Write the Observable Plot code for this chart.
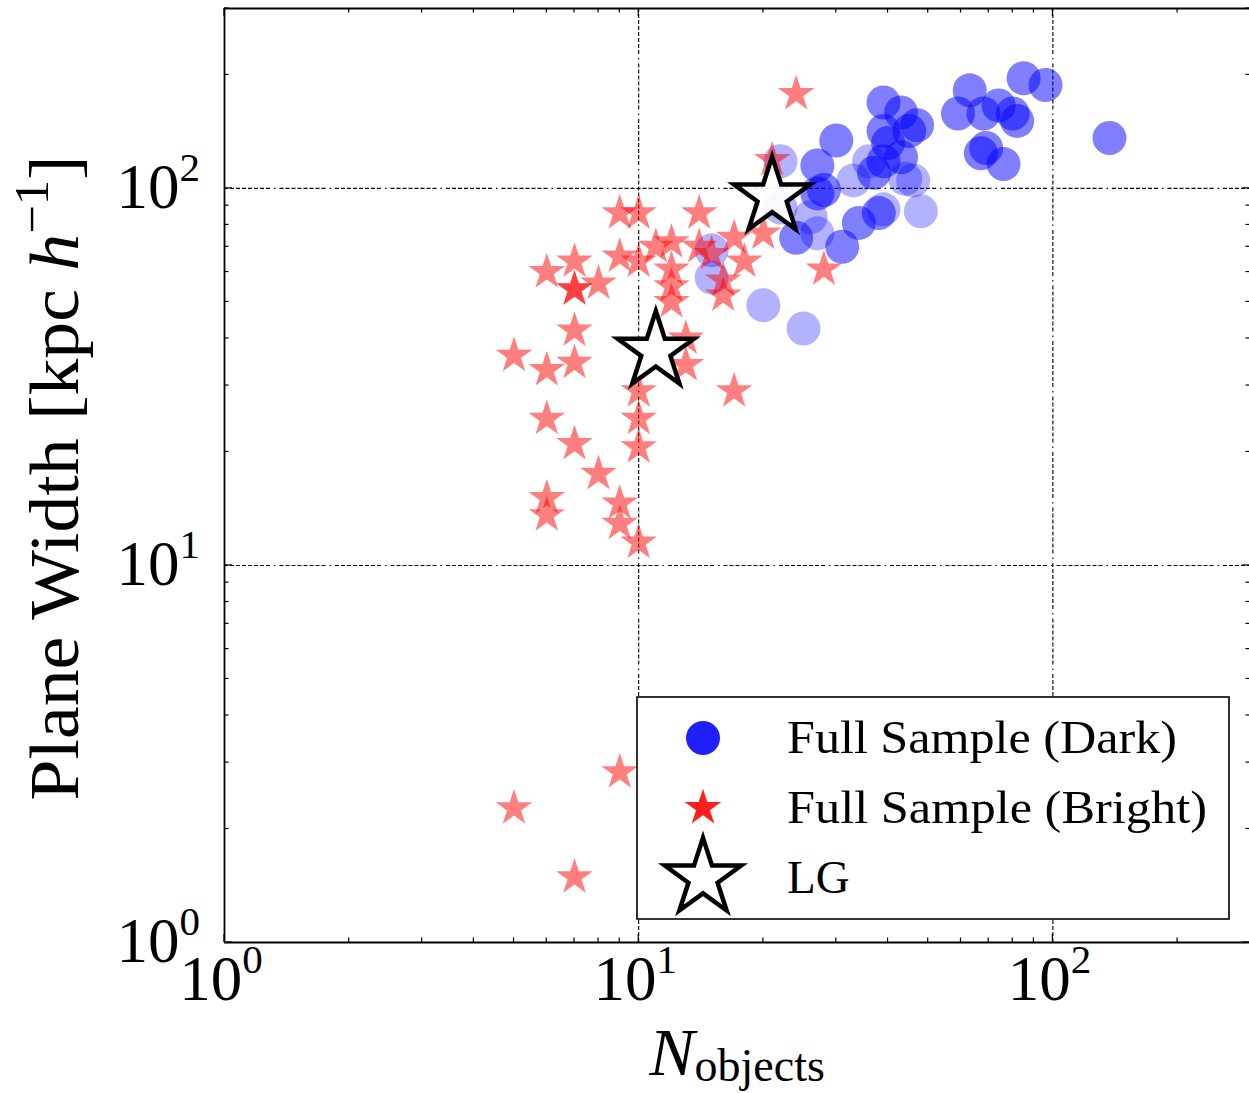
<!DOCTYPE html>
<html><head><meta charset="utf-8">
<script src="https://cdn.jsdelivr.net/npm/d3@7"></script>
<script src="https://cdn.jsdelivr.net/npm/@observablehq/plot@0.6"></script>
<style>body{margin:0;background:#fff} svg{display:block}</style>
</head><body><div id="chart"></div>
<script>
// Full Sample (Dark) — opaque-ish circles
const darkN = [63,59,85,96,68,74,80,82,69,67,76,137,47,39,43,39,45,40,43,30,27,28,27,37,39,38,34,31,24];
const darkW = [182,158,196,188,158,166,158,151,128,124,116,136,147,169,159,142,142,132,121,134,115,99,97,110,118,86,81,70,74];
// Full Sample (Dark) — faint circles
const faintN = [33,44,36,39,48,27,22,20,25,22,26,15,15,46];
const faintW = [105,106,118,88,87,76,118,49,42.5,89,84,68.5,58,105];
// Full Sample (Bright)
const brightN = [24,21,9,10,14,6,7,7,7,8,9,10,11,12,12,12,12,14,15,16,16,17,18,20,28,5,6,7,7,13,13,10,17,10,10,6,7,8,6,6,9,9,10,5,9,7];
const brightW = [178,119,86,86,86,60,64,54,54,56,66,64,70,72,61,55,50,70,67,57,52,74,64,76,61,36,33,34.5,42,40,34,29,29,24.5,20.6,24.5,21,17.5,15.1,13.6,14.6,12.9,11.5,2.27,2.83,1.49];
// LG
const lgN = [21,11];
const lgW = [95,37];
// axes
const majorTicks = [1,10,100];
const tickExp = ["0","1","2"];
const gridTicks = [10,100];
const legendLabels = ["Full Sample (Dark)","Full Sample (Bright)","LG"];
const xLabelMain = "N", xLabelSub = "objects";
const yLabel = "Plane Width [kpc ";

const dark = darkN.map((n,i)=>({n, w:darkW[i]}));
const faint = faintN.map((n,i)=>({n, w:faintW[i]}));
const bright = brightN.map((n,i)=>({n, w:brightW[i]}));
const lg = lgN.map((n,i)=>({n, w:lgW[i]}));

const FONT = "'Liberation Serif','DejaVu Serif',serif";
const dash = "4,2,4,2,4,2,4,2,4,2,4,2,4,2,4,4,1.5,4";
const STAR_R = 11.5, LG_R = 24;

const plot = Plot.plot({
  width:1249, height:1093,
  marginLeft:224, marginTop:8, marginRight:0, marginBottom:151,
  x:{type:"log", domain:[1,300], range:[224,1250], axis:null},
  y:{type:"log", domain:[1,300], range:[942,8], axis:null},
  marks:[
    Plot.ruleX(gridTicks, {stroke:"black", strokeWidth:1.1, strokeDasharray:dash}),
    Plot.ruleY(gridTicks, {stroke:"black", strokeWidth:1.1, strokeDasharray:dash}),
    Plot.dot(faint, {x:"n", y:"w", r:17, fill:"blue", fillOpacity:0.3, stroke:null}),
    Plot.dot(dark, {x:"n", y:"w", r:17, fill:"blue", fillOpacity:0.5, stroke:null}),
    Plot.dot(bright, {x:"n", y:"w", r:STAR_R, symbol:"star", fill:"red", fillOpacity:0.5, stroke:null}),
    Plot.dot(lg, {x:"n", y:"w", r:LG_R, symbol:"star", fill:"white", fillOpacity:0.9, stroke:"black", strokeWidth:4.5, strokeLinejoin:"miter"}),
    Plot.ruleX([1], {stroke:"black", strokeWidth:1.8}),
    Plot.ruleY([1,300], {stroke:"black", strokeWidth:1.8})
  ]
});
document.getElementById("chart").appendChild(plot);

const sx = plot.scale("x"), sy = plot.scale("y");
const X = v => sx.apply(v), Y = v => sy.apply(v);
const svg = d3.select(plot);
const g = svg.append("g").attr("stroke","black").attr("stroke-width",1.2);
const x0 = X(1), x1 = X(300), y0 = Y(1), y1 = Y(300);
const minors = [];
for (const d of majorTicks) for (let k=2;k<=9;k++) if (d*k<=300) minors.push(d*k);
function ticks(vals, len){
  for (const v of vals){
    const px = X(v), py = Y(v);
    g.append("line").attr("x1",px).attr("x2",px).attr("y1",y0).attr("y2",y0-len);
    g.append("line").attr("x1",px).attr("x2",px).attr("y1",y1).attr("y2",y1+len);
    g.append("line").attr("y1",py).attr("y2",py).attr("x1",x0).attr("x2",x0+len);
    g.append("line").attr("y1",py).attr("y2",py).attr("x1",x1).attr("x2",x1-len);
  }
}
ticks(majorTicks, 8);
ticks(minors, 4.5);

// tick labels
const lab = svg.append("g").attr("font-family",FONT).attr("fill","black");
majorTicks.forEach((v,i)=>{
  const t = lab.append("text").attr("x",200).attr("y",Y(v)+20).attr("text-anchor","end").attr("font-size",63);
  t.append("tspan").text("10");
  t.append("tspan").attr("font-size",41).attr("dy",-27).text(tickExp[i]);
  const b = lab.append("text").attr("x",X(v)-3).attr("y",1000).attr("text-anchor","middle").attr("font-size",63);
  b.append("tspan").text("10");
  b.append("tspan").attr("font-size",41).attr("dy",-27).text(tickExp[i]);
});

// axis labels
const xl = lab.append("text").attr("x",(x0+1250)/2).attr("y",1075).attr("text-anchor","middle");
xl.append("tspan").attr("font-size",68).attr("font-style","italic").text(xLabelMain);
xl.append("tspan").attr("font-size",46).attr("dy",6).text(xLabelSub);

const yl = lab.append("text").attr("transform",`translate(78,478) rotate(-90)`).attr("text-anchor","middle")
  .attr("font-size",70).attr("textLength",645).attr("lengthAdjust","spacingAndGlyphs");
yl.append("tspan").text(yLabel);
yl.append("tspan").attr("font-style","italic").text("h");
yl.append("tspan").attr("font-size",48).attr("dy",-30).text("\u22121");
yl.append("tspan").attr("dy",30).text("]");

// legend
const lgG = svg.append("g");
lgG.append("rect").attr("x",637).attr("y",697).attr("width",592).attr("height",222)
  .attr("fill","white").attr("stroke","black").attr("stroke-width",1.6);
const rows = [738,808,878];
lgG.append("circle").attr("cx",703).attr("cy",rows[0]).attr("r",17).attr("fill","#1f1fff");
lgG.append("path").attr("transform",`translate(703,${rows[1]})`)
  .attr("d", d3.symbol(d3.symbolStar, Math.PI*STAR_R*STAR_R)()).attr("fill","#ff1f1f");
lgG.append("path").attr("transform",`translate(703,${rows[2]})`)
  .attr("d", d3.symbol(d3.symbolStar, Math.PI*LG_R*LG_R)()).attr("fill","white")
  .attr("stroke","black").attr("stroke-width",4.5);
const lens = [390,420,null];
legendLabels.forEach((s,i)=>{
  const t = lgG.append("text").attr("x",787).attr("y",rows[i]+15).attr("font-family",FONT)
    .attr("text-anchor","start").attr("font-size",47).text(s);
  if (lens[i]) t.attr("textLength",lens[i]).attr("lengthAdjust","spacingAndGlyphs");
});
</script>
</body></html>
